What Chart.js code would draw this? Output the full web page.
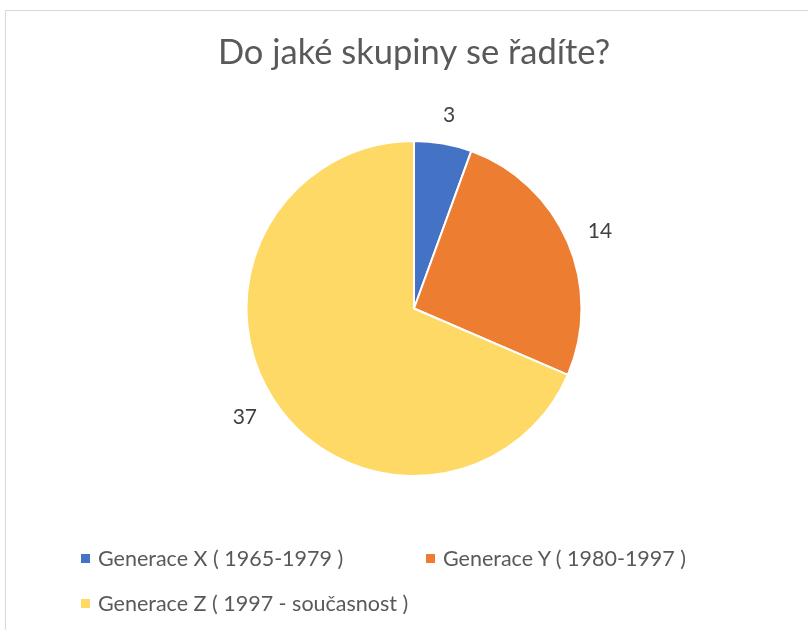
<!DOCTYPE html>
<html>
<head>
<meta charset="utf-8">
<script src="https://cdn.jsdelivr.net/npm/chart.js@4/dist/chart.umd.min.js"></script>
<style>
  body { margin: 0; background: #fff; overflow: hidden; }
  #frame { position: absolute; left: 5px; top: 10px; width: 816px; height: 640px; border: 1px solid #d9d9d9; }
  #wrap { position: absolute; left: 0; top: 0; width: 816px; height: 619px; }
  #legend { position: absolute; left: 0; top: 0; font-family: Lato, sans-serif; font-size: 21.5px; color: #595959; }
  .item { position: absolute; white-space: nowrap; line-height: 24px; }
  .box { position: absolute; width: 9px; height: 9px; top: 8px; left: 0; }
  .lbl { position: absolute; left: 17px; top: 0; }
</style>
</head>
<body>
<div id="frame">
  <div id="wrap"><canvas id="pieChart"></canvas></div>
  <div id="legend"></div>
</div>
<script>
const labels = ['Generace X ( 1965-1979 )', 'Generace Y ( 1980-1997 )', 'Generace Z ( 1997 - současnost )'];
const values = [3, 14, 37];
const colors = ['#4472C4', '#ED7D31', '#FFD966'];

// value labels outside each slice, like Excel's best fit
const outsideLabels = {
  id: 'outsideLabels',
  afterDatasetsDraw(chart) {
    const ctx = chart.ctx;
    const meta = chart.getDatasetMeta(0);
    ctx.save();
    ctx.font = '21px Lato, sans-serif';
    ctx.fillStyle = '#404040';
    ctx.textAlign = 'center';
    ctx.textBaseline = 'alphabetic';
    meta.data.forEach(function(arc, i) {
      const p = arc.getProps(['x', 'y', 'startAngle', 'endAngle', 'outerRadius']);
      const mid = (p.startAngle + p.endAngle) / 2;
      const x = p.x + Math.cos(mid) * (p.outerRadius + 35);
      const y = p.y + Math.sin(mid) * (p.outerRadius + 29) + 7.5;
      ctx.fillText(String(values[i]), x, y);
    });
    ctx.restore();
  }
};

document.addEventListener('DOMContentLoaded', function() {
  const ctx = document.getElementById('pieChart').getContext('2d');
  new Chart(ctx, {
    type: 'pie',
    data: {
      labels: labels,
      datasets: [{
        data: values,
        backgroundColor: colors,
        borderColor: '#ffffff',
        borderWidth: 2
      }]
    },
    options: {
      responsive: true,
      maintainAspectRatio: false,
      animation: false,
      layout: { padding: { top: 0, bottom: 153 } },
      plugins: {
        legend: { display: false },
        tooltip: { enabled: false },
        title: {
          display: true,
          text: 'Do jaké skupiny se řadíte?',
          color: '#595959',
          font: { family: 'Lato', size: 34.5, weight: 'normal' },
          padding: { top: 21, bottom: 66.6 }
        }
      }
    },
    plugins: [outsideLabels]
  });

  // legend laid out in Excel-style columns
  const legend = document.getElementById('legend');
  const spots = [[75, 535], [420, 535], [75, 580]];
  labels.forEach(function(text, i) {
    const item = document.createElement('div');
    item.className = 'item';
    item.style.left = spots[i][0] + 'px';
    item.style.top = spots[i][1] + 'px';
    item.innerHTML = '<span class="box" style="background:' + colors[i] + '"></span><span class="lbl"></span>';
    item.querySelector('.lbl').textContent = text;
    legend.appendChild(item);
  });
});
</script>
</body>
</html>
